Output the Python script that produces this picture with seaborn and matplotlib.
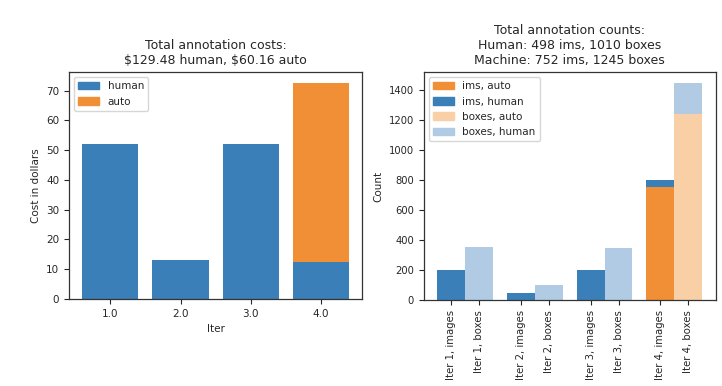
import pandas as pd
import numpy as np
import seaborn as sns
import matplotlib.pyplot as plt
from matplotlib.patches import Patch

# annotation costs per iteration
iters = ["1.0", "2.0", "3.0", "4.0"]
cost_human = [52.0, 13.0, 52.0, 12.48]
cost_auto = [0.0, 0.0, 0.0, 60.16]

# annotation counts per iteration
iter_ids = [1, 2, 3, 4]
ims_human = [200, 50, 200, 48]
ims_auto = [0, 0, 0, 752]
boxes_human = [355, 100, 350, 205]
boxes_auto = [0, 0, 0, 1245]

c_human = "#3a7fb8"
c_auto = "#f08f35"
c_boxes_human = "#b0cbe3"
c_boxes_auto = "#f9cfa6"

sns.set_theme(style="ticks")
plt.rcParams["font.family"] = ["DejaVu Sans"]
plt.rcParams["axes.edgecolor"] = "#333333"
plt.rcParams["axes.linewidth"] = 0.9

fig = plt.figure(figsize=(7.22, 3.86), dpi=100)
ax1 = fig.add_axes([0.0956, 0.2254, 0.406, 0.588])
ax2 = fig.add_axes([0.587, 0.2228, 0.404, 0.5907])

# left: stacked costs (total first, then human over the bottom)
cost_df = pd.DataFrame({
    "Iter": iters,
    "human": cost_human,
    "total": np.add(cost_human, cost_auto),
})
sns.barplot(data=cost_df, x="Iter", y="total", color=c_auto, saturation=1,
            width=0.8, linewidth=0, ax=ax1)
sns.barplot(data=cost_df, x="Iter", y="human", color=c_human, saturation=1,
            width=0.8, linewidth=0, ax=ax1)
ax1.set_xlim(-0.59, 3.59)
ax1.set_ylabel("Cost in dollars", fontsize=7.5)
ax1.set_xlabel("Iter", fontsize=7.5)
ax1.set_yticks(range(0, 80, 10))
ax1.tick_params(labelsize=7.5, length=3.5, width=0.8)
ax1.set_title("Total annotation costs:\n\\$%.2f human, \\$%.2f auto"
              % (sum(cost_human), sum(cost_auto)), fontsize=9)
ax1.legend(handles=[Patch(color=c_human, label="human"),
                    Patch(color=c_auto, label="auto")],
           loc="upper left", fontsize=7.5, framealpha=0.8, edgecolor="#cccccc",
           fancybox=True)

# right: counts, images and boxes side by side for each iter
pos, kind, total, auto, labels = [], [], [], [], []
for i, it in enumerate(iter_ids):
    base = i * 2.5
    pos += [base, base + 1]
    kind += ["images", "boxes"]
    total += [ims_human[i] + ims_auto[i], boxes_human[i] + boxes_auto[i]]
    auto += [ims_auto[i], boxes_auto[i]]
    labels += ["Iter %d, images" % it, "Iter %d, boxes" % it]
count_df = pd.DataFrame({"pos": pos, "kind": kind, "total": total, "auto": auto})

sns.barplot(data=count_df, x="pos", y="total", hue="kind", dodge=False,
            native_scale=True, width=1.0, saturation=1, legend=False, linewidth=0,
            palette={"images": c_human, "boxes": c_boxes_human}, ax=ax2)
sns.barplot(data=count_df, x="pos", y="auto", hue="kind", dodge=False,
            native_scale=True, width=1.0, saturation=1, legend=False, linewidth=0,
            palette={"images": c_auto, "boxes": c_boxes_auto}, ax=ax2)
ax2.set_xticks(pos)
ax2.set_xticklabels(labels, rotation=90, fontsize=7.3)
ax2.set_xlim(min(pos) - 0.5 - 0.475, max(pos) + 0.5 + 0.475)
ax2.set_ylim(0, max(total) * 1.05)
ax2.set_xlabel("")
ax2.set_ylabel("Count", fontsize=7.5)
ax2.tick_params(axis="y", labelsize=7.2)
ax2.tick_params(length=3.5, width=0.8)
ax2.set_title("Total annotation counts:\nHuman: %d ims, %d boxes\nMachine: %d ims, %d boxes"
              % (sum(ims_human), sum(boxes_human), sum(ims_auto), sum(boxes_auto)),
              fontsize=9)
ax2.legend(handles=[Patch(color=c_auto, label="ims, auto"),
                    Patch(color=c_human, label="ims, human"),
                    Patch(color=c_boxes_auto, label="boxes, auto"),
                    Patch(color=c_boxes_human, label="boxes, human")],
           loc="upper left", fontsize=7.5, framealpha=0.8, edgecolor="#cccccc",
           fancybox=True)

fig.savefig("out.png", dpi=100)
